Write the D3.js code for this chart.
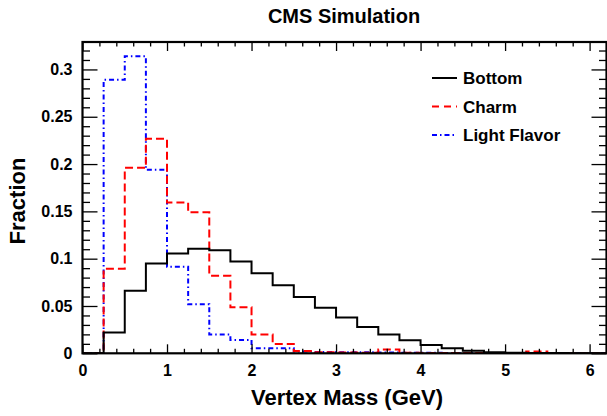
<!DOCTYPE html>
<html>
<head>
<meta charset="utf-8">
<script src="https://cdn.jsdelivr.net/npm/d3@7"></script>
<style>
  body { margin: 0; background: #fff; }
  svg { display: block; font-family: "Liberation Sans", Arial, Helvetica, sans-serif; font-weight: bold; }
</style>
</head>
<body>
<svg id="chart" width="607" height="416"></svg>
<script>
// ---- Data ----
const binEdges = d3.range(0, 6.25 + 1e-9, 0.25).map(d => +d.toFixed(2));
const bottomValues = [0, 0.022, 0.066, 0.095, 0.1056, 0.1105, 0.1088, 0.097, 0.0845, 0.0718, 0.0595, 0.0482, 0.0378, 0.0278, 0.020, 0.0138, 0.0088, 0.0053, 0.0026, 0.0012, 0.0006, 0.0004, 0.0002, 0.0001, 0.0001];
const charmValues  = [0, 0.0894, 0.196, 0.2267, 0.1595, 0.149, 0.082, 0.0486, 0.020, 0.0098, 0.0025, 0.0012, 0.0008, 0.0006, 0.0040, 0.0006, 0.0004, 0.0003, 0.0002, 0.0002, 0.0001, 0.0018, 0.0001, 0.0001, 0];
const lightValues  = [0, 0.289, 0.314, 0.194, 0.0915, 0.0518, 0.020, 0.014, 0.0053, 0.0053, 0.0018, 0.0015, 0.0010, 0.0010, 0.0008, 0.0006, 0.0005, 0.0004, 0.0003, 0.0002, 0.0002, 0.0001, 0.0001, 0.0001, 0];
const seriesNames = ["Bottom", "Charm", "Light Flavor"];
const xTickValues = [0, 1, 2, 3, 4, 5, 6];
const yTickValues = [0, 0.05, 0.1, 0.15, 0.2, 0.25, 0.3];
const yTickLabels = ["0", "0.05", "0.1", "0.15", "0.2", "0.25", "0.3"];
const titleText = "CMS Simulation";
const xTitle = "Vertex Mass (GeV)";
const yTitle = "Fraction";

// ---- Layout ----
const frame = { left: 82.5, right: 606.5, top: 42, bottom: 353.3 };
const svg = d3.select("#chart");

const x = d3.scaleLinear().domain([0, 6.2]).range([frame.left, frame.right]);
const y = d3.scaleLinear().domain([0, 0.329]).range([frame.bottom, frame.top]);

const styles = [
  { color: "#000000", dash: null, width: 2 },
  { color: "#ff0000", dash: "8,4", width: 2 },
  { color: "#0000ff", dash: "5,3,1.5,3", width: 2 }
];
const allSeries = [bottomValues, charmValues, lightValues];

// clip
svg.append("clipPath").attr("id", "clip").append("rect")
  .attr("x", frame.left).attr("y", frame.top)
  .attr("width", frame.right - frame.left).attr("height", frame.bottom - frame.top);

const line = d3.line().x(d => x(d[0])).y(d => y(d[1])).curve(d3.curveStepAfter);

const g = svg.append("g").attr("clip-path", "url(#clip)");
[2, 1, 0].forEach(si => {
  const vals = allSeries[si];
  const pts = vals.map((v, i) => [binEdges[i], v]);
  pts.push([binEdges[vals.length], vals[vals.length - 1]]);
  g.append("path")
    .attr("d", line(pts))
    .attr("fill", "none")
    .attr("stroke", styles[si].color)
    .attr("stroke-width", styles[si].width)
    .attr("stroke-dasharray", styles[si].dash);
});

// ---- Axes (ROOT style: ticks inside, on all four sides) ----
const xMajorLen = 9, xMinorLen = 4.5, yMajorLen = 15, yMinorLen = 7.5;
const xMinor = d3.range(0, 6.2001, 0.2).filter(v => Math.abs(v - Math.round(v)) > 1e-6);
const yMinor = d3.range(0, 0.3291, 0.01).filter(v => Math.abs(v / 0.05 - Math.round(v / 0.05)) > 1e-6);

function styleTicks(sel) {
  sel.select(".domain").remove();
  sel.selectAll(".tick line").attr("stroke", "#000").attr("stroke-width", 1.3);
}

// bottom axis
const gxb = svg.append("g").attr("transform", `translate(0,${frame.bottom})`)
  .call(d3.axisBottom(x).tickValues(xTickValues).tickSizeInner(-xMajorLen).tickSizeOuter(0)
    .tickFormat(d3.format("d")).tickPadding(8));
styleTicks(gxb);
gxb.selectAll(".tick text").attr("font-size", 16).attr("font-weight", "bold").attr("fill", "#000")
  .attr("font-family", "Liberation Sans, Arial, sans-serif").attr("dy", "0.9em");
styleTicks(svg.append("g").attr("transform", `translate(0,${frame.bottom})`)
  .call(d3.axisBottom(x).tickValues(xMinor).tickSizeInner(-xMinorLen).tickSizeOuter(0).tickFormat("")));

// top axis ticks
styleTicks(svg.append("g").attr("transform", `translate(0,${frame.top})`)
  .call(d3.axisTop(x).tickValues(xTickValues).tickSizeInner(-xMajorLen).tickSizeOuter(0).tickFormat("")));
styleTicks(svg.append("g").attr("transform", `translate(0,${frame.top})`)
  .call(d3.axisTop(x).tickValues(xMinor).tickSizeInner(-xMinorLen).tickSizeOuter(0).tickFormat("")));

// left axis
const gyl = svg.append("g").attr("transform", `translate(${frame.left},0)`)
  .call(d3.axisLeft(y).tickValues(yTickValues).tickSizeInner(-yMajorLen).tickSizeOuter(0)
    .tickFormat((d, i) => yTickLabels[i]).tickPadding(10));
styleTicks(gyl);
gyl.selectAll(".tick text").attr("font-size", 16).attr("font-weight", "bold").attr("fill", "#000")
  .attr("font-family", "Liberation Sans, Arial, sans-serif");
styleTicks(svg.append("g").attr("transform", `translate(${frame.left},0)`)
  .call(d3.axisLeft(y).tickValues(yMinor).tickSizeInner(-yMinorLen).tickSizeOuter(0).tickFormat("")));

// right axis ticks
styleTicks(svg.append("g").attr("transform", `translate(${frame.right},0)`)
  .call(d3.axisRight(y).tickValues(yTickValues).tickSizeInner(-yMajorLen).tickSizeOuter(0).tickFormat("")));
styleTicks(svg.append("g").attr("transform", `translate(${frame.right},0)`)
  .call(d3.axisRight(y).tickValues(yMinor).tickSizeInner(-yMinorLen).tickSizeOuter(0).tickFormat("")));

// frame
svg.append("rect")
  .attr("x", frame.left).attr("y", frame.top)
  .attr("width", frame.right - frame.left).attr("height", frame.bottom - frame.top)
  .attr("fill", "none").attr("stroke", "#000").attr("stroke-width", 2.2);

// ---- Titles ----
svg.append("text").attr("x", 344).attr("y", 22.7).attr("text-anchor", "middle")
  .attr("font-size", 20).attr("fill", "#000").text(titleText);
svg.append("text").attr("x", 347).attr("y", 405).attr("text-anchor", "middle")
  .attr("font-size", 22).attr("fill", "#000").text(xTitle);
svg.append("text").attr("transform", "translate(25,201) rotate(-90)").attr("text-anchor", "middle")
  .attr("font-size", 22).attr("fill", "#000").text(yTitle);

// ---- Legend ----
const legendY = [78, 106.5, 135];
const lg = svg.append("g");
seriesNames.forEach((name, i) => {
  lg.append("line").attr("x1", 432).attr("x2", 457).attr("y1", legendY[i]).attr("y2", legendY[i])
    .attr("stroke", styles[i].color).attr("stroke-width", 2)
    .attr("stroke-dasharray", i === 1 ? "7,5" : styles[i].dash);
  lg.append("text").attr("x", 463).attr("y", legendY[i] + 6).attr("font-size", 17)
    .attr("fill", "#000").text(name);
});
</script>
</body>
</html>
